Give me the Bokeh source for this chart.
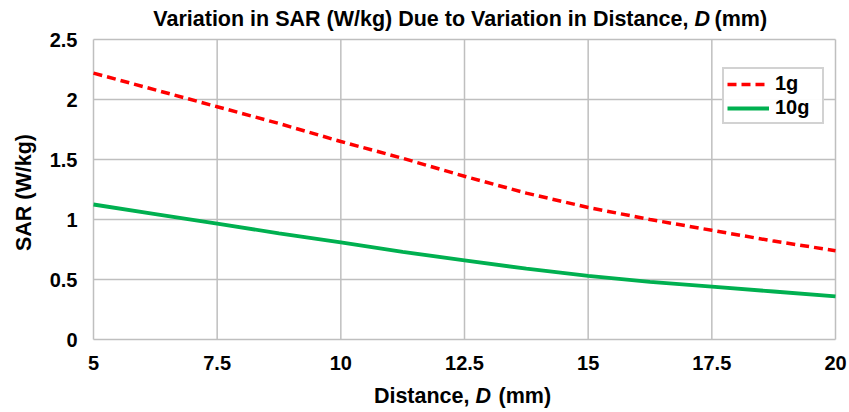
from bokeh.plotting import figure
from bokeh.models import (Range1d, FixedTicker, Legend, LegendItem, Label,
                          ColumnDataSource, LinearAxis)
from bokeh.embed import file_html
from bokeh.resources import INLINE
import math

# ---- data ----
distance = [5, 6.25, 7.5, 8.75, 10, 11.25, 12.5, 13.75, 15, 16.25, 17.5, 18.75, 20]
sar_1g = [2.22, 2.08, 1.94, 1.80, 1.65, 1.51, 1.36, 1.22, 1.10, 1.00, 0.91, 0.82, 0.74]
sar_10g = [1.125, 1.045, 0.965, 0.885, 0.81, 0.73, 0.66, 0.59, 0.53, 0.48, 0.44, 0.40, 0.36]
series_names = ["1g", "10g"]
x_ticks = [5, 7.5, 10, 12.5, 15, 17.5, 20]
x_tick_labels = ["5", "7.5", "10", "12.5", "15", "17.5", "20"]
y_ticks = [0, 0.5, 1, 1.5, 2, 2.5]
y_tick_labels = ["0", "0.5", "1", "1.5", "2", "2.5"]
title_parts = ["Variation in SAR (W/kg) Due to Variation in Distance,", "D", "(mm)"]
xlabel_parts = ["Distance,", "D", "(mm)"]
ylabel = "SAR (W/kg)"

FONT = "Liberation Sans"
W, H = 849, 412
# plot-area edges in canvas pixels
PL, PR, PT, PB = 93, 835, 39, 339
X0, X1 = x_ticks[0], x_ticks[-1]
Y0, Y1 = y_ticks[0], y_ticks[-1]
sx = (PR - PL) / (X1 - X0)
sy = (PB - PT) / (Y1 - Y0)
XS = X0 - PL / sx
XE = XS + W / sx
YE = Y1 + PT / sy
YS = YE - H / sy

# the frame covers the whole canvas so that titles can live inside it
p = figure(width=W, height=H, output_backend="svg", toolbar_location=None,
           x_range=Range1d(XS, XE), y_range=Range1d(YS, YE),
           x_axis_location=None, y_axis_location=None, min_border=0)
p.background_fill_color = "white"
p.border_fill_color = "white"
p.outline_line_color = None
p.xgrid.visible = False
p.ygrid.visible = False

grid_color = "#bfbfbf"
# grid lines (including the plot-area border) at the tick positions
p.segment(x0=x_ticks, y0=[Y0] * len(x_ticks), x1=x_ticks, y1=[Y1] * len(x_ticks),
          line_color=grid_color, line_width=1.5)
p.segment(x0=[X0] * len(y_ticks), y0=y_ticks, x1=[X1] * len(y_ticks), y1=y_ticks,
          line_color=grid_color, line_width=1.5)

xaxis = LinearAxis(fixed_location=Y0, ticker=FixedTicker(ticks=x_ticks),
                   major_label_overrides={t: s for t, s in zip(x_ticks, x_tick_labels)})
yaxis = LinearAxis(fixed_location=X0, ticker=FixedTicker(ticks=y_ticks),
                   major_label_overrides={t: s for t, s in zip(y_ticks, y_tick_labels)})
for ax in (xaxis, yaxis):
    ax.axis_line_color = None
    ax.major_tick_line_color = None
    ax.minor_tick_line_color = None
    ax.major_tick_out = 0
    ax.major_tick_in = 0
    ax.minor_tick_out = 0
    ax.major_label_text_font = FONT
    ax.major_label_text_font_style = "bold"
    ax.major_label_text_font_size = "20px"
    ax.major_label_text_color = "black"
xaxis.major_label_standoff = 16
yaxis.major_label_standoff = 16
p.add_layout(xaxis, "below")
p.add_layout(yaxis, "left")

src = ColumnDataSource(dict(d=distance, g1=sar_1g, g10=sar_10g))
r1 = p.line("d", "g1", source=src, line_color="#ff0000", line_width=3.5, line_dash="9 5")
r2 = p.line("d", "g10", source=src, line_color="#00b050", line_width=3.8)

legend = Legend(items=[LegendItem(label=series_names[0], renderers=[r1]),
                       LegendItem(label=series_names[1], renderers=[r2])],
                location=(722, H - 124))
legend.border_line_color = "#a6a6a6"
legend.border_line_width = 2
legend.label_text_font = FONT
legend.label_text_font_style = "bold"
legend.label_text_font_size = "20px"
legend.label_text_color = "black"
legend.glyph_width = 42
legend.glyph_height = 18
legend.label_height = 18
legend.label_width = 44
legend.label_standoff = 6
legend.spacing = 1
legend.padding = 3
legend.margin = 0
p.add_layout(legend, "center")

def dx(px):
    return XS + px / sx

def dy(py):
    return YE - py / sy

def add_text(txt, px, py, align, style, size="21.5px", angle=0.0):
    p.add_layout(Label(x=dx(px), y=dy(py), text=txt, text_align=align, angle=angle,
                       text_baseline="middle", text_font=FONT, text_font_style=style,
                       text_font_size=size, text_color="black"))

# title
add_text(title_parts[0], 688, 18, "right", "bold")
add_text(title_parts[1], 694, 18, "left", "bold italic")
add_text(title_parts[2], 714, 18, "left", "bold")
# x axis label
add_text(xlabel_parts[0], 469, 395, "right", "bold")
add_text(xlabel_parts[1], 475, 395, "left", "bold italic")
add_text(xlabel_parts[2], 498, 395, "left", "bold")
# y axis label
add_text(ylabel, 23.5, 192, "center", "bold", angle=math.pi / 2)

open("out.html", "w").write(file_html(p, INLINE))
